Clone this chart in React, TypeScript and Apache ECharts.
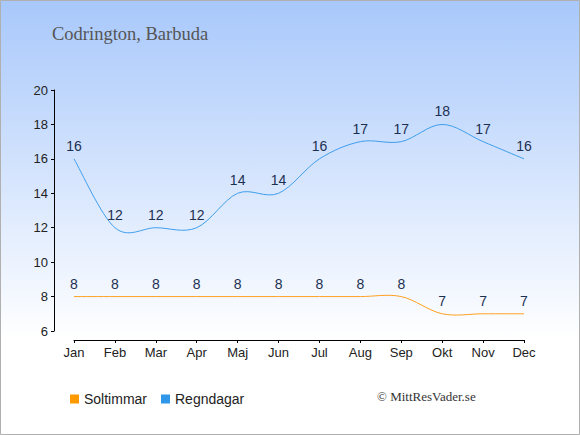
import React, { useEffect, useRef } from "react";
import * as echarts from "echarts";

const months = ["Jan", "Feb", "Mar", "Apr", "Maj", "Jun", "Jul", "Aug", "Sep", "Okt", "Nov", "Dec"];
const soltimmar = [8, 8, 8, 8, 8, 8, 8, 8, 8, 7, 7, 7];
const regndagar = [16, 12, 12, 12, 14, 14, 16, 17, 17, 18, 17, 16];
const titleText = "Codrington, Barbuda";
const creditText = "© MittResVader.se";

function curveSeries(name: string, values: number[], color: string) {
  return {
    name,
    type: "custom",
    data: values.map((v, i) => [i, v]),
    silent: true,
    z: 3,
    renderItem: (params: any, api: any) => {
      if (params.dataIndex !== 0) return null;
      const pts = values.map((v, i) => api.coord([i, v]));
      let d = `M${pts[0][0]},${pts[0][1]}`;
      for (let i = 0; i < pts.length - 1; i++) {
        const p0 = pts[Math.max(0, i - 1)];
        const p1 = pts[i];
        const p2 = pts[i + 1];
        const p3 = pts[Math.min(pts.length - 1, i + 2)];
        const c1x = p1[0] + (p2[0] - p0[0]) / 6;
        const c1y = p1[1] + (p2[1] - p0[1]) / 6;
        const c2x = p2[0] - (p3[0] - p1[0]) / 6;
        const c2y = p2[1] - (p3[1] - p1[1]) / 6;
        d += ` C${c1x},${c1y} ${c2x},${c2y} ${p2[0]},${p2[1]}`;
      }
      return {
        type: "path",
        shape: { pathData: d },
        style: { fill: "none", stroke: color, lineWidth: 1 },
      };
    },
  };
}

export default function App() {
  const ref = useRef<HTMLDivElement>(null);
  useEffect(() => {
    document.body.style.margin = "0";
    const chart = echarts.init(ref.current!, null, { renderer: "svg" });
    const labelStyle = {
      show: true,
      position: "top" as const,
      distance: 6,
      color: "#1c3052",
      fontSize: 14,
      fontFamily: "Liberation Sans, Arial, sans-serif",
    };
    chart.setOption({
      animation: false,
      backgroundColor: new echarts.graphic.LinearGradient(0, 0, 0, 1, [
        { offset: 0, color: "#a8c8fb" },
        { offset: 0.78, color: "#ffffff" },
        { offset: 1, color: "#ffffff" },
      ]),
      title: {
        text: titleText,
        left: 47,
        top: 19,
        textStyle: {
          fontFamily: "Liberation Serif, serif",
          fontWeight: "normal",
          fontSize: 18.5,
          color: "#555555",
        },
      },
      legend: {
        left: 65,
        top: 387,
        icon: "rect",
        itemWidth: 9,
        itemHeight: 9,
        itemGap: 14,
        textStyle: { fontFamily: "Liberation Sans, Arial, sans-serif", fontSize: 14, color: "#222" },
        data: ["Soltimmar", "Regndagar"],
      },
      grid: { left: 74, right: 56, top: 90, bottom: 104 },
      xAxis: {
        type: "category",
        data: months,
        boundaryGap: false,
        offset: 9,
        axisLine: { lineStyle: { color: "#000", width: 1 } },
        axisTick: { show: true, length: 3, inside: false, alignWithLabel: true, lineStyle: { color: "#000" } },
        axisLabel: { color: "#222", fontSize: 13, fontFamily: "Liberation Sans, Arial, sans-serif", margin: 6 },
        splitLine: { show: false },
      },
      yAxis: {
        type: "value",
        min: 6,
        max: 20,
        interval: 2,
        offset: 20,
        axisLine: { show: true, lineStyle: { color: "#000", width: 1 } },
        axisTick: { show: true, length: 3, lineStyle: { color: "#000" } },
        axisLabel: { color: "#222", fontSize: 13, fontFamily: "Liberation Sans, Arial, sans-serif", margin: 6 },
        splitLine: { show: false },
      },
      graphic: [
        {
          type: "rect",
          shape: { x: 0.5, y: 0.5, width: 579, height: 434 },
          style: { fill: "none", stroke: "#b0b0b0", lineWidth: 1 },
          silent: true,
        },
        {
          type: "text",
          left: 377,
          top: 390,
          style: {
            text: creditText,
            fontFamily: "Liberation Serif, serif",
            fontSize: 13,
            fill: "#333",
          },
        },
      ],
      series: [
        {
          name: "Soltimmar",
          type: "line",
          data: soltimmar,
          symbol: "circle",
          symbolSize: 0,
          showSymbol: true,
          itemStyle: { color: "#ff9900" },
          lineStyle: { opacity: 0 },
          label: labelStyle,
        },
        {
          name: "Regndagar",
          type: "line",
          data: regndagar,
          symbol: "circle",
          symbolSize: 0,
          showSymbol: true,
          itemStyle: { color: "#2f96e8" },
          lineStyle: { opacity: 0 },
          label: labelStyle,
        },
        curveSeries("Soltimmar", soltimmar, "#ffa020"),
        curveSeries("Regndagar", regndagar, "#3f9eec"),
      ],
    });
    return () => chart.dispose();
  }, []);
  return <div ref={ref} style={{ width: 580, height: 435 }} />;
}
